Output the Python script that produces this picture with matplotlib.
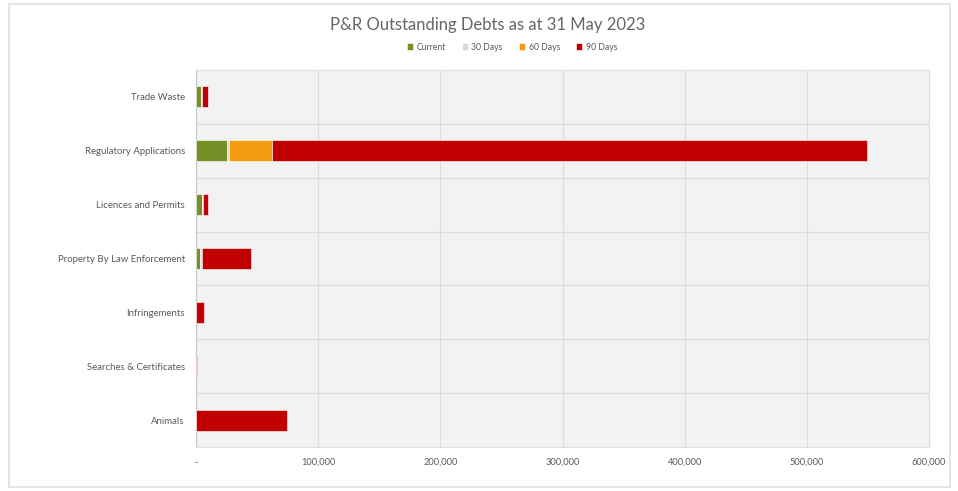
import numpy as np
import matplotlib.pyplot as plt
from matplotlib.patches import Rectangle

plt.rcParams['font.family'] = ['Lato', 'DejaVu Sans']

categories = [
    'Trade Waste',
    'Regulatory Applications',
    'Licences and Permits',
    'Property By Law Enforcement',
    'Infringements',
    'Searches & Certificates',
    'Animals',
]
current = [4000, 25000, 4900, 3300, 0, 0, 0]
days_30 = [1000, 2000, 1000, 2000, 0, 0, 0]
days_60 = [0, 35500, 0, 0, 0, 0, 0]
days_90 = [4900, 487000, 4100, 39500, 6300, 1200, 74500]

series = [
    ('Current', current, '#738f26'),
    ('30 Days', days_30, '#d9d9d9'),
    ('60 Days', days_60, '#f39c12'),
    ('90 Days', days_90, '#c00000'),
]

x_ticks = [0, 100000, 200000, 300000, 400000, 500000, 600000]
x_labels = ['-', '100,000', '200,000', '300,000', '400,000', '500,000', '600,000']

text_color = '#595959'

fig = plt.figure(figsize=(9.58, 4.91), dpi=100)
fig.patch.set_facecolor('white')

# outer chart frame
fig.patches.append(Rectangle((9 / 958, 4 / 491), 941 / 958, 483 / 491,
                             transform=fig.transFigure, fill=False,
                             edgecolor='#e0e0e0', linewidth=1.2))

ax = fig.add_axes([196 / 958, 44 / 491, 733 / 958, 377 / 491])
ax.set_facecolor('#f2f2f2')

y = np.arange(len(categories))
left = np.zeros(len(categories))
for name, vals, color in series:
    vals = np.array(vals, dtype=float)
    ax.barh(y, vals, left=left, height=0.39, color=color, label=name,
            edgecolor='white', linewidth=0.4, zorder=3)
    left += vals

ax.set_ylim(len(categories) - 0.5, -0.5)
ax.set_xlim(0, 600000)

ax.set_yticks(y)
ax.set_yticklabels(categories, fontsize=6.9, color=text_color)
ax.set_xticks(x_ticks)
ax.set_xticklabels(x_labels, fontsize=6.7, color=text_color)
ax.tick_params(axis='both', length=0)
ax.tick_params(axis='y', pad=8)
ax.tick_params(axis='x', pad=8)

ax.xaxis.grid(True, color='#dcdcdc', linewidth=0.8, zorder=0)
ax.set_yticks(np.arange(len(categories) + 1) - 0.5, minor=True)
ax.yaxis.grid(True, which='minor', color='#dcdcdc', linewidth=0.8, zorder=0)
ax.tick_params(axis='y', which='minor', length=0)

for side in ['top', 'right', 'bottom']:
    ax.spines[side].set_color('#e0e0e0')
ax.spines['left'].set_color('#c8c8c8')

fig.text(488 / 958, 1 - 25 / 491, 'P&R Outstanding Debts as at 31 May 2023',
         ha='center', va='center', fontsize=12, color='#666666')

handles, labels = ax.get_legend_handles_labels()
fig.legend(handles, labels, loc='center', bbox_to_anchor=(512 / 958, 1 - 47 / 491),
           ncol=4, frameon=False, fontsize=6.2, handlelength=0.7,
           handleheight=0.7, columnspacing=1.9, handletextpad=0.4,
           labelcolor=text_color)

fig.savefig('out.png', dpi=100)
